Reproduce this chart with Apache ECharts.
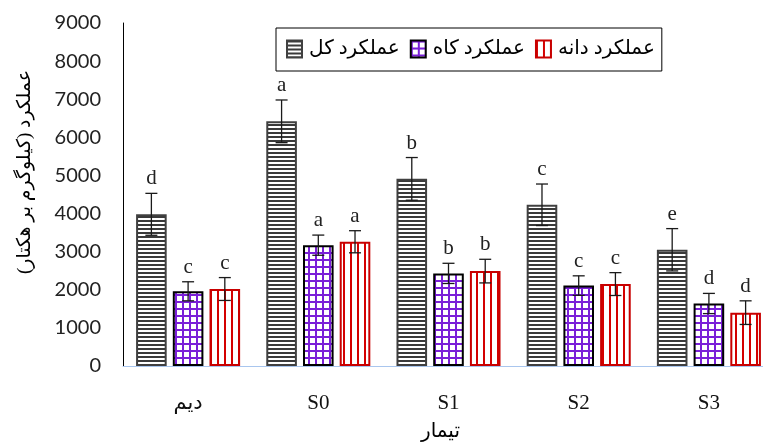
<!DOCTYPE html>
<html>
<head>
<meta charset="utf-8">
<script src="https://cdn.jsdelivr.net/npm/echarts@6/dist/echarts.min.js"></script>
<style>
  html, body { margin: 0; padding: 0; background: #fff; }
  #chart { width: 763px; height: 442px; }
</style>
</head>
<body>
<div id="chart"></div>
<script>
// Treatments and yield values (kg/ha)
const categories = ['دیم', 'S0', 'S1', 'S2', 'S3'];
const seriesNames = ['عملکرد کل', 'عملکرد کاه', 'عملکرد دانه'];
const totalYield = [3980, 6420, 4910, 4230, 3050];
const strawYield = [1960, 3170, 2430, 2110, 1640];
const grainYield = [2020, 3260, 2490, 2150, 1400];
// Standard errors
const totalErr = [550, 560, 560, 545, 555];
const strawErr = [250, 265, 265, 256, 265];
const grainErr = [300, 290, 310, 300, 310];
// Mean-comparison letters
const totalLetters = ['d', 'a', 'b', 'c', 'e'];
const strawLetters = ['c', 'a', 'b', 'c', 'd'];
const grainLetters = ['c', 'a', 'b', 'c', 'd'];
// Value axis
const yMin = 0, yMax = 9000, yStep = 1000;

const yTitle = 'عملکرد (کیلوگرم بر هکتار)\u200F';
const xTitle = 'تیمار';

const SERIF = '"Liberation Serif", "DejaVu Sans", serif';
const BAR_W = 0.235;   // bar width as share of the category band
const BAR_GAP = 0.2;   // gap as share of bar width

function makePattern(w, h, draw) {
  const c = document.createElement('canvas');
  c.width = w; c.height = h;
  const ctx = c.getContext('2d');
  ctx.fillStyle = '#fff';
  ctx.fillRect(0, 0, w, h);
  draw(ctx);
  return { image: c, repeat: 'repeat' };
}

// horizontal dark stripes
const stripeH = makePattern(4, 4, ctx => {
  ctx.fillStyle = '#3a3a3a';
  ctx.fillRect(0, 0, 4, 2);
});
// purple grid
const gridPurple = makePattern(7, 7, ctx => {
  ctx.fillStyle = '#7a1fd8';
  ctx.fillRect(0, 0, 7, 2);
  ctx.fillRect(0, 0, 2, 7);
});
// red vertical stripes
const stripeV = makePattern(7, 1, ctx => {
  ctx.fillStyle = '#d40000';
  ctx.fillRect(0, 0, 2, 1);
});

function barSeries(name, data, fill, border) {
  return {
    type: 'bar',
    name: name,
    data: data,
    barWidth: (BAR_W * 100) + '%',
    barGap: (BAR_GAP * 100) + '%',
    itemStyle: { color: fill, borderColor: border, borderWidth: 2 },
    emphasis: { disabled: true }
  };
}

// error bar + letter drawn over each bar; slot = position within the group
function errorSeries(vals, errs, letters, slot) {
  return {
    type: 'custom',
    name: 'err' + slot,
    silent: true,
    z: 10,
    data: vals.map((v, i) => [i, v, errs[i]]),
    encode: { x: 0, y: 1 },
    renderItem(params, api) {
      const i = api.value(0), v = api.value(1), e = api.value(2);
      const band = api.size([1, 0])[0];
      const bw = band * BAR_W;
      const step = bw * (1 + BAR_GAP);
      const x = api.coord([i, v])[0] + (slot - 1) * step;
      const yTop = api.coord([i, v + e])[1];
      const yBot = api.coord([i, v - e])[1];
      const cap = 6;
      const st = { stroke: '#1a1a1a', lineWidth: 1.3 };
      return {
        type: 'group',
        children: [
          { type: 'line', shape: { x1: x, y1: yTop, x2: x, y2: yBot }, style: st },
          { type: 'line', shape: { x1: x - cap, y1: yTop, x2: x + cap, y2: yTop }, style: st },
          { type: 'line', shape: { x1: x - cap, y1: yBot, x2: x + cap, y2: yBot }, style: st },
          { type: 'text', x: x, y: yTop - 4,
            style: { text: letters[i], fill: '#222', font: '21px ' + SERIF,
                     align: 'center', verticalAlign: 'bottom' } }
        ]
      };
    }
  };
}

const chart = echarts.init(document.getElementById('chart'), null, { renderer: 'canvas' });
chart.setOption({
  animation: false,
  backgroundColor: '#fff',
  // plot runs past the right edge of the canvas
  grid: { left: 123, width: 651, top: 23, bottom: 76, outerBoundsMode: 'none', containLabel: false },
  legend: {
    data: seriesNames,
    left: 276, top: 28,
    icon: 'rect',
    itemWidth: 15, itemHeight: 17, itemGap: 10,
    borderColor: '#000', borderWidth: 1,
    padding: [11, 7, 12, 10],
    textStyle: { fontFamily: SERIF, fontSize: 20, color: '#000', padding: [0, 0, 0, 2] }
  },
  xAxis: {
    type: 'category',
    data: categories,
    axisLine: { lineStyle: { color: '#a9c6ee', width: 1 } },
    axisTick: { show: false },
    axisLabel: { fontFamily: SERIF, fontSize: 21, color: '#111', margin: 27 },
    name: xTitle,
    nameLocation: 'middle',
    nameGap: 56,
    nameTextStyle: { fontFamily: SERIF, fontSize: 20, color: '#000', padding: [0, 16, 0, 0] }
  },
  yAxis: {
    type: 'value',
    min: yMin, max: yMax, interval: yStep,
    axisLine: { show: true, lineStyle: { color: '#000', width: 1 } },
    axisTick: { show: false },
    splitLine: { show: false },
    axisLabel: {
      fontFamily: 'Lato, "Open Sans", sans-serif', fontSize: 20, color: '#222', margin: 22,
      formatter: v => String(v)
    }
  },
  graphic: [{
    type: 'text',
    x: 25, y: 172,
    rotation: Math.PI / 2,
    style: { text: yTitle, font: '19px ' + SERIF, fill: '#000',
             align: 'center', verticalAlign: 'middle' }
  }],
  series: [
    barSeries(seriesNames[0], totalYield, stripeH, '#404040'),
    barSeries(seriesNames[1], strawYield, gridPurple, '#000'),
    barSeries(seriesNames[2], grainYield, stripeV, '#c80000'),
    errorSeries(totalYield, totalErr, totalLetters, 0),
    errorSeries(strawYield, strawErr, strawLetters, 1),
    errorSeries(grainYield, grainErr, grainLetters, 2)
  ]
});
</script>
</body>
</html>
